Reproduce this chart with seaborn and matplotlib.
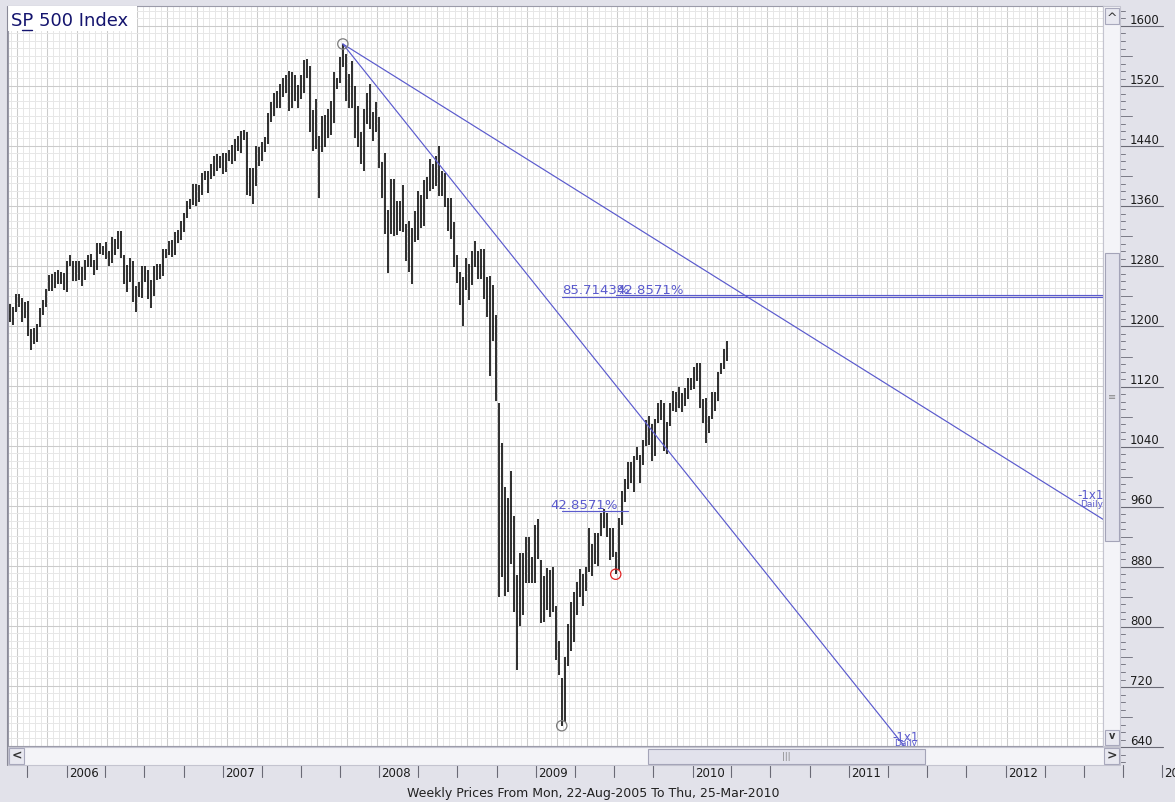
import matplotlib
matplotlib.use('Agg')
import matplotlib.pyplot as plt
from matplotlib.patches import Rectangle
import seaborn as sns
import numpy as np
import pandas as pd

# weekly S&P 500 bars, one per week starting Mon 22-Aug-2005
first_week = '2005-08-22'
week_high = [
    1229, 1225, 1243, 1243, 1237, 1232, 1233, 1196, 1197, 1202,
    1224, 1235, 1249, 1268, 1269, 1272, 1275, 1272, 1271, 1286,
    1294, 1287, 1286, 1286, 1278, 1288, 1294, 1296, 1288, 1310,
    1310, 1306, 1312, 1300, 1318, 1316, 1326, 1326, 1295, 1281,
    1290, 1286, 1253, 1259, 1280, 1280, 1274, 1261, 1280, 1283,
    1283, 1303, 1302, 1313, 1315, 1325, 1328, 1340, 1350, 1366,
    1369, 1389, 1389, 1388, 1404, 1407, 1406, 1416, 1427, 1429,
    1427, 1430, 1431, 1435, 1441, 1449, 1453, 1460, 1461, 1459,
    1410, 1410, 1440, 1438, 1445, 1452, 1484, 1498, 1510, 1513,
    1523, 1530, 1535, 1540, 1538, 1535, 1521, 1534, 1555, 1556,
    1547, 1488, 1503, 1453, 1480, 1481, 1489, 1500, 1538, 1530,
    1558, 1576, 1563, 1536, 1553, 1520, 1493, 1458, 1489, 1510,
    1523, 1485, 1498, 1478, 1418, 1431, 1355, 1396, 1396, 1367,
    1367, 1388, 1336, 1340, 1331, 1353, 1380, 1375, 1395, 1399,
    1422, 1416, 1426, 1440, 1406, 1404, 1370, 1370, 1338, 1294,
    1272, 1265, 1291, 1283, 1300, 1313, 1300, 1302, 1303, 1265,
    1266, 1255, 1215, 1097, 1044, 985, 970, 1007, 946, 868,
    897, 897, 919, 918, 892, 934, 943, 888, 867, 877,
    875, 879, 827, 780, 730, 759, 803, 832, 845, 858,
    876, 869, 878, 930, 909, 924, 924, 951, 956, 951,
    931, 931, 898, 944, 980, 996, 1018, 1019, 1027, 1039,
    1028, 1048, 1074, 1080, 1069, 1076, 1097, 1101, 1097, 1072,
    1097, 1113, 1112, 1119, 1110, 1117, 1130, 1130, 1145, 1150,
    1150, 1103, 1104, 1080, 1112, 1112, 1139, 1151, 1169, 1180,
]
week_low = [
    1205, 1201, 1218, 1225, 1205, 1210, 1187, 1168, 1176, 1178,
    1198, 1214, 1225, 1247, 1247, 1250, 1256, 1256, 1248, 1245,
    1280, 1260, 1260, 1261, 1253, 1261, 1278, 1278, 1268, 1274,
    1296, 1294, 1289, 1280, 1284, 1295, 1302, 1291, 1256, 1245,
    1258, 1232, 1219, 1238, 1237, 1259, 1236, 1224, 1240, 1261,
    1262, 1267, 1290, 1294, 1292, 1294, 1310, 1314, 1325, 1344,
    1356, 1361, 1360, 1365, 1375, 1394, 1377, 1396, 1400, 1407,
    1410, 1403, 1405, 1420, 1416, 1420, 1433, 1431, 1448, 1374,
    1373, 1363, 1386, 1413, 1420, 1432, 1443, 1472, 1480, 1490,
    1491, 1505, 1510, 1487, 1490, 1500, 1490, 1503, 1510, 1530,
    1458, 1433, 1436, 1370, 1432, 1439, 1450, 1455, 1470, 1516,
    1524, 1545, 1500, 1490, 1490, 1450, 1439, 1416, 1406, 1469,
    1462, 1446, 1458, 1411, 1370, 1322, 1270, 1322, 1320, 1321,
    1327, 1325, 1286, 1272, 1256, 1312, 1315, 1331, 1333, 1369,
    1380, 1382, 1387, 1373, 1373, 1358, 1327, 1316, 1278, 1257,
    1228, 1200, 1248, 1234, 1254, 1279, 1262, 1262, 1236, 1212,
    1133, 1180, 1100, 839, 865, 840, 845, 883, 818, 741,
    800, 815, 857, 857, 857, 857, 889, 804, 805, 821,
    812, 818, 754, 734, 667, 672, 747, 766, 779, 814,
    838, 826, 847, 872, 866, 882, 880, 920, 930, 918,
    888, 892, 869, 875, 935, 965, 983, 990, 978, 1021,
    991, 1015, 1040, 1041, 1020, 1026, 1071, 1075, 1033, 1029,
    1067, 1086, 1085, 1091, 1085, 1093, 1103, 1115, 1116, 1126,
    1091, 1071, 1044, 1057, 1076, 1086, 1100, 1136, 1142, 1153,
]
axis_years = [2006, 2007, 2008, 2009, 2010, 2011, 2012, 2013]
price_ticks = list(range(640, 1601, 80))
gann_slopes = [5.0, 2.5]           # points per week down from the top
pct_steps = [6 / 7, 3 / 7]         # 85.7142% / 42.8571%
red_low_week = '2009-07-06'
footer = 'Weekly Prices From Mon, 22-Aug-2005 To Thu, 25-Mar-2010'

W, H = 1175, 802
BLUE = '#5a5acd'
origin = pd.Timestamp(first_week)


def wk(d):
    return (pd.Timestamp(d) - origin).days / 7.0


def box(x0, y0, x1, y1):
    return [x0 / W, 1 - y1 / H, (x1 - x0) / W, (y1 - y0) / H]


sns.set_style('white')
plt.rcParams['font.family'] = ['DejaVu Sans']

fig = plt.figure(figsize=(W / 100, H / 100), dpi=100, facecolor='#e2e2ea')


def rect(x0, y0, x1, y1, fc, ec='none', lw=0.8):
    fig.add_artist(Rectangle((x0 / W, 1 - y1 / H), (x1 - x0) / W, (y1 - y0) / H,
                             transform=fig.transFigure, fc=fc, ec=ec, lw=lw))


# ---- main price panel ----
ax = fig.add_axes(box(8, 6, 1103, 746))
ax.set_facecolor('white')
weeks = pd.date_range(first_week, periods=len(week_high), freq='7D')
x = np.array([wk(d) for d in weeks])
hi = np.array(week_high, dtype=float)
lo = np.array(week_low, dtype=float)

ax.set_xlim(-2 / 3, 1093 / 3)
ax.set_ylim(641.5, 1626.6)
ax.set_xticks(np.arange(2.5, 365, 10))
ax.set_xticks(np.arange(0.5, 365, 2), minor=True)
ax.set_yticks(np.arange(640, 1630, 80))
ax.set_yticks(np.arange(640, 1630, 10), minor=True)
ax.grid(which='minor', color='#e7e7e7', lw=0.7)
ax.grid(which='major', color='#cbcbcb', lw=0.75)
ax.set_axisbelow(True)
ax.tick_params(which='both', length=0, labelbottom=False, labelleft=False)
for s in ax.spines.values():
    s.set_color('#9a9aa8')
    s.set_linewidth(0.8)

ax.vlines(x, lo, hi, colors='black', lw=1.15, zorder=3)

# pivots
ipk = int(np.argmax(hi))
ilo = int(np.argmin(lo))
ird = int(round(wk(red_low_week)))
pk_x, pk_p = x[ipk], hi[ipk]
lo_x, lo_p = x[ilo], lo[ilo]
rd_x, rd_p = x[ird], lo[ird]

# gann lines from the top
x_end = [pk_x + (pk_p - 640) / gann_slopes[0], ax.get_xlim()[1]]
for sl, xe in zip(gann_slopes, x_end):
    ax.plot([pk_x, xe], [pk_p, pk_p - sl * (xe - pk_x)], color=BLUE, lw=0.85, zorder=4)
ax.text(294.3, 646.8, '-1x1', color=BLUE, fontsize=8.5, va='baseline', clip_on=True, zorder=5)
ax.text(294.8, 640.5, 'Daily', color=BLUE, fontsize=6.5, va='baseline', clip_on=True, zorder=5)
ax.text(356.0, 969.0, '-1x1', color=BLUE, fontsize=8.5, va='baseline', clip_on=True, zorder=5)
ax.text(357.0, 958.5, 'Daily', color=BLUE, fontsize=6.5, va='baseline', clip_on=True, zorder=5)

# percentage levels
lvl_a = lo_p * (1 + pct_steps[0])
lvl_b = rd_p * (1 + pct_steps[1])
lvl_c = lo_p * (1 + pct_steps[1])
xr = ax.get_xlim()[1]
ax.plot([lo_x, xr], [lvl_a, lvl_a], color=BLUE, lw=0.85, zorder=4)
ax.plot([rd_x, xr], [lvl_b, lvl_b], color=BLUE, lw=0.85, zorder=4)
ax.plot([lo_x, rd_x + 4], [lvl_c, lvl_c], color=BLUE, lw=0.85, zorder=4)
ax.text(lo_x + 0.2, lvl_a + 4, f'{pct_steps[0] * 100:.4f}%', color=BLUE,
        fontsize=9.5, va='baseline', zorder=5)
ax.text(rd_x + 0.2, lvl_a + 4, f'{pct_steps[1] * 100:.4f}%', color=BLUE,
        fontsize=9.5, va='baseline', zorder=5)
ax.text(lo_x - 3.8, lvl_c + 3.5, f'{pct_steps[1] * 100:.4f}%', color=BLUE,
        fontsize=9.5, va='baseline', zorder=5)

sns.scatterplot(x=[pk_x, lo_x], y=[pk_p, lo_p], ax=ax, s=55, marker='o',
                facecolor='none', edgecolor='#7c7c7c', linewidth=0.9, zorder=6)
sns.scatterplot(x=[rd_x], y=[rd_p], ax=ax, s=55, marker='o',
                facecolor='none', edgecolor='#e02424', linewidth=0.9, zorder=6)

# ---- right price scale ----
axr = fig.add_axes(box(1120, 6, 1175, 765))
axr.set_xlim(0, 55)
axr.set_ylim(616.2, 1626.6)
axr.axis('off')
for p in range(620, 1621, 10):
    ln = 12 if p % 40 == 0 else 5
    axr.plot([0, ln], [p, p], color='#7a7a86', lw=0.7)
for p in price_ticks:
    axr.plot([0, 43], [p, p], color='#6a6a76', lw=0.8)
    axr.text(10, p + 3, str(p), fontsize=8.5, color='#1c1c1c', va='baseline', ha='left')

# ---- scrollbars ----
rect(1103, 6, 1120, 746, '#f4f4f8', '#c4c4d0')
rect(1105, 8, 1119, 24, '#e8e8f0', '#a8a8bc')
rect(1105, 730, 1119, 745, '#e8e8f0', '#a8a8bc')
rect(1105, 253, 1119, 541, '#e2e2ec', '#a4a4b8')
fig.text(1112 / W, 1 - 18 / H, '^', ha='center', va='center', fontsize=9, color='#333')
fig.text(1112 / W, 1 - 736 / H, 'v', ha='center', va='center', fontsize=7, color='#333',
         fontweight='bold')
fig.text(1112 / W, 1 - 397 / H, '≡', ha='center', va='center', fontsize=7, color='#888')

rect(8, 747, 1120, 765, '#f4f4f8', '#c4c4d0')
rect(9, 748, 24, 764, '#e8e8f0', '#a8a8bc')
rect(1104, 748, 1119, 764, '#e8e8f0', '#a8a8bc')
rect(648, 749, 925, 764, '#e2e2ec', '#a4a4b8')
fig.text(16.5 / W, 1 - 756 / H, '<', ha='center', va='center', fontsize=9, color='#333',
         fontweight='bold')
fig.text(1111.5 / W, 1 - 756 / H, '>', ha='center', va='center', fontsize=9, color='#333',
         fontweight='bold')
fig.text(786 / W, 1 - 756.5 / H, '|||', ha='center', va='center', fontsize=6, color='#888')

# ---- date axis ----
axb = fig.add_axes(box(8, 765, 1175, 786))
axb.set_xlim(-2 / 3, 1165 / 3)
axb.set_ylim(0, 1)
axb.axis('off')
quarters = pd.date_range('2005-10-01', '2013-01-01', freq='QS')
for q in quarters:
    axb.plot([wk(q)] * 2, [1, 0.43], color='#6a6a76', lw=0.8)
for yr in axis_years:
    axb.text(wk(f'{yr}-01-01') + 0.7, 0.6, str(yr), fontsize=8.5, color='#1c1c1c',
             va='center', ha='left', clip_on=False)

fig.text(593 / W, 1 - 793 / H, footer, ha='center', va='center', fontsize=9, color='#202020')

# ---- chart title tab ----
rect(8, 6, 137, 31, 'white')
fig.text(11 / W, 1 - 26.5 / H, 'SP 500 Index', fontsize=13, color='#14146e', va='baseline')
fig.add_artist(plt.Line2D([22 / W, 31.5 / W], [1 - 29.5 / H] * 2, transform=fig.transFigure,
                          color='#14146e', lw=1.0))

# frame edges
fig.add_artist(plt.Line2D([7 / W] * 2, [1 - 6 / H, 1 - 765 / H], transform=fig.transFigure,
                          color='#8a8a98', lw=0.8))

fig.savefig('out.png', dpi=100, facecolor=fig.get_facecolor())
